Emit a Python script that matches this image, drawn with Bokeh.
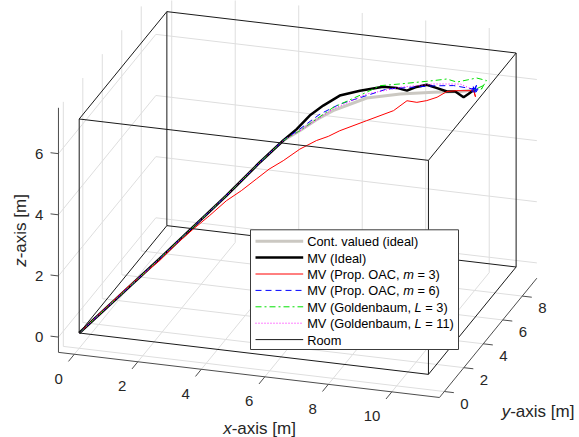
import math
from bokeh.plotting import figure
from bokeh.models import Range1d
from bokeh.embed import file_html
from bokeh.resources import INLINE
from bokeh.core.properties import value

# ---------------- data (metres) ----------------
XTICKS = [0, 2, 4, 6, 8, 10]
YTICKS = [0, 2, 4, 6, 8]
ZTICKS = [0, 2, 4, 6]
XLIM = [-0.5, 11.5]
YLIM = [-0.5, 9.5]
ZLIM = [-0.5, 7.5]
ROOM = [11, 9, 7]

cont_x = [0, 2.03, 3.72, 4.57, 5.16, 5.58, 6.00, 6.42, 7.27, 8.12, 8.96, 9.64, 9.98]
cont_y = [0, 1.62, 2.98, 3.66, 4.13, 4.46, 4.80, 5.14, 5.82, 6.50, 7.17, 7.71, 7.98]
cont_z = [0, 2.04, 3.79, 4.72, 5.32, 5.56, 5.84, 6.06, 6.31, 6.28, 6.18, 6.08, 6.06]

ideal_x = [0, 2.03, 2.87, 3.72, 4.57, 5.16, 5.50, 5.83, 6.17, 6.59, 7.10, 7.36, 7.69, 8.03,
           8.29, 8.50, 8.79, 9.05, 9.30, 9.51, 9.72, 9.85, 9.98]
ideal_y = [0, 1.62, 2.30, 2.98, 3.66, 4.13, 4.40, 4.66, 4.94, 5.27, 5.68, 5.89, 6.15, 6.42,
           6.63, 6.80, 7.03, 7.24, 7.44, 7.61, 7.78, 7.88, 7.98]
ideal_z = [0, 2.04, 2.91, 3.79, 4.72, 5.32, 5.63, 6.01, 6.27, 6.52, 6.58, 6.59, 6.60, 6.50,
           6.36, 6.43, 6.46, 6.30, 6.14, 6.10, 5.87, 5.96, 6.06]

oac3_x = [0, 1.27, 2.03, 2.45, 2.87, 3.30, 3.72, 4.10, 4.48, 4.80, 5.16, 5.58, 6.00, 6.30,
          6.59, 7.27, 7.95, 8.29, 8.54, 8.79, 9.05, 9.30, 9.55, 9.98, 10.02, 9.98]
oac3_y = [0, 1.02, 1.62, 1.96, 2.30, 2.64, 2.98, 3.28, 3.58, 3.84, 4.13, 4.46, 4.80, 5.04,
          5.27, 5.82, 6.36, 6.63, 6.83, 7.03, 7.24, 7.44, 7.64, 7.98, 8.02, 7.98]
oac3_z = [0, 1.31, 1.98, 2.44, 2.84, 3.22, 3.62, 3.88, 4.19, 4.45, 4.66, 4.96, 5.16, 5.24,
          5.37, 5.57, 5.77, 6.03, 5.93, 5.94, 6.00, 6.14, 6.12, 6.04, 5.83, 6.06]

oac6_x = [0, 2.03, 3.72, 4.57, 5.16, 5.58, 6.09, 6.59, 7.27, 7.78, 8.37, 8.96, 9.47, 9.98,
          9.90, 10.06, 9.93, 10.04, 9.95, 10.08, 9.97, 10.01, 9.92, 10.03, 10.07, 9.96,
          10.05, 9.99, 10.09, 10.02]
oac6_y = [0, 1.62, 2.98, 3.66, 4.13, 4.46, 4.87, 5.27, 5.82, 6.22, 6.70, 7.17, 7.58, 7.98,
          7.94, 8.05, 7.92, 8.06, 7.98, 8.04, 7.95, 8.03, 7.97, 8.00, 8.06, 7.97, 8.04,
          7.99, 8.07, 8.01]
oac6_z = [0, 2.04, 3.79, 4.72, 5.32, 5.62, 6.01, 6.24, 6.39, 6.51, 6.45, 6.39, 6.30, 6.09,
          6.16, 5.98, 6.04, 6.20, 5.94, 6.10, 6.18, 5.96, 6.08, 6.12, 5.99, 6.14, 6.22,
          5.95, 6.06, 6.10]

gb3_x = [0, 2.03, 3.72, 4.57, 5.16, 5.58, 6.42, 7.27, 7.61, 8.12, 8.96, 9.30, 9.55, 9.81,
         10.05, 10.30, 10.15, 10.22, 9.98]
gb3_y = [0, 1.62, 2.98, 3.66, 4.13, 4.46, 5.14, 5.82, 6.09, 6.50, 7.17, 7.44, 7.64, 7.85,
         8.04, 8.24, 8.12, 8.18, 7.98]
gb3_z = [0, 2.04, 3.79, 4.72, 5.32, 5.56, 6.16, 6.50, 6.65, 6.61, 6.56, 6.55, 6.40, 6.42,
         6.44, 6.31, 6.01, 6.16, 6.06]

gb11_x = [0, 2.03, 3.72, 4.57, 5.16, 5.58, 6.42, 7.27, 8.12, 8.96, 9.64, 9.98]
gb11_y = [0, 1.62, 2.98, 3.66, 4.13, 4.46, 5.14, 5.82, 6.50, 7.17, 7.71, 7.98]
gb11_z = [0, 2.04, 3.79, 4.72, 5.32, 5.56, 6.11, 6.44, 6.50, 6.45, 6.32, 6.06]

# ---------------- view (orthographic projection) ----------------
X0, Y0 = 78.7, 332.5
AX, AY = 31.75, 9.74
BX, BY, BZ = 3.76, -11.93, -30.57


def proj(xs, ys, zs):
    sx = [X0 + AX * x + AY * y for x, y in zip(xs, ys)]
    sy = [Y0 + BX * x + BY * y + BZ * z for x, y, z in zip(xs, ys, zs)]
    return sx, sy


def pt(x, y, z):
    sx, sy = proj([x], [y], [z])
    return sx[0], sy[0]


FONT = value("Liberation Sans")
TXT = "#262626"
NB = "\u00a0"

# Arial/Liberation advance widths (1/1000 em)
WID = {' ': 278, NB: 278, '(': 333, ')': 333, ',': 278, '.': 278, '=': 584, '-': 333, '[': 278,
       ']': 278, 'A': 667, 'C': 722, 'G': 778, 'I': 278, 'L': 556, 'M': 833, 'O': 778, 'P': 667,
       'R': 722, 'V': 667, 'a': 556, 'b': 556, 'c': 500, 'd': 556, 'e': 556, 'i': 222, 'l': 222,
       'm': 833, 'n': 556, 'o': 556, 'p': 556, 'r': 333, 's': 500, 't': 278, 'u': 556, 'v': 500,
       'x': 500, 'y': 500, 'z': 500}


def tw(s, size):
    return sum(WID.get(c, 556) for c in s) * size / 1000.0


p = figure(width=579, height=437, output_backend="svg", toolbar_location=None,
           x_range=Range1d(0, 579), y_range=Range1d(437, 0),
           x_axis_location=None, y_axis_location=None, min_border=0,
           outline_line_color=None, background_fill_color="white",
           border_fill_color="white")
p.xgrid.visible = False
p.ygrid.visible = False

x0, x1 = XLIM
y0, y1 = YLIM
z0, z1 = ZLIM

# grid on back planes
gxs, gys = [], []


def seg(a, b, lx, ly):
    sx, sy = proj([a[0], b[0]], [a[1], b[1]], [a[2], b[2]])
    lx.append(sx)
    ly.append(sy)


for xv in XTICKS:
    seg((xv, y0, z0), (xv, y1, z0), gxs, gys)
    seg((xv, y1, z0), (xv, y1, z1), gxs, gys)
for yv in YTICKS:
    seg((x0, yv, z0), (x1, yv, z0), gxs, gys)
    seg((x0, yv, z0), (x0, yv, z1), gxs, gys)
for zv in ZTICKS:
    seg((x0, y0, zv), (x0, y1, zv), gxs, gys)
    seg((x0, y1, zv), (x1, y1, zv), gxs, gys)
p.multi_line(gxs, gys, line_color="#dedede", line_width=1)

# axis lines and ticks
axs, ays = [], []
seg((x0, y0, z0), (x1, y0, z0), axs, ays)
seg((x1, y0, z0), (x1, y1, z0), axs, ays)
seg((x0, y0, z0), (x0, y0, z1), axs, ays)
for xv in XTICKS:
    seg((xv, y0, z0), (xv, y0 - 0.6, z0), axs, ays)
for yv in YTICKS:
    seg((x1, yv, z0), (x1 + 0.3, yv, z0), axs, ays)
for zv in ZTICKS:
    seg((x0, y0, zv), (x0 - 0.25, y0, zv), axs, ays)
p.multi_line(axs, ays, line_color="#4d4d4d", line_width=1)

# tick labels
TS = value("15px")
tx, ty, tt = [], [], []
for xv in XTICKS:
    sx, sy = pt(xv, y0, z0)
    tx.append(sx - 11.5)
    ty.append(sy + 24.5)
    tt.append(str(xv))
p.text(x=tx, y=ty, text=tt, text_font=FONT, text_font_size=TS,
       text_align="right", text_baseline="middle", text_color=TXT)
tx, ty, tt = [], [], []
for yv in YTICKS:
    sx, sy = pt(x1, yv, z0)
    tx.append(sx + 16.0)
    ty.append(sy + 12.3)
    tt.append(str(yv))
p.text(x=tx, y=ty, text=tt, text_font=FONT, text_font_size=TS,
       text_align="left", text_baseline="middle", text_color=TXT)
tx, ty, tt = [], [], []
for zv in ZTICKS:
    sx, sy = pt(x0, y0, zv)
    tx.append(sx - 15.0)
    ty.append(sy)
    tt.append(str(zv))
p.text(x=tx, y=ty, text=tt, text_font=FONT, text_font_size=TS,
       text_align="right", text_baseline="middle", text_color=TXT)

# axis titles (italic variable + regular rest)
LS = 17
REST = "-axis" + NB + "[m]"
for var, cx, cy in [("x", 259, 428), ("y", 537.5, 411)]:
    full = tw(var + REST, LS)
    start = cx - full / 2
    p.text(x=[start], y=[cy], text=[var], text_font=FONT, text_font_size=value("%dpx" % LS),
           text_font_style="italic", text_align="left", text_baseline="middle", text_color=TXT)
    p.text(x=[start + tw(var, LS)], y=[cy], text=[REST], text_font=FONT,
           text_font_size=value("%dpx" % LS), text_align="left", text_baseline="middle",
           text_color=TXT)
full = tw("z" + REST, LS)
zs = 230 + full / 2
p.text(x=[20], y=[zs], text=["z"], text_font=FONT, text_font_size=value("%dpx" % LS),
       text_font_style="italic", text_align="left", text_baseline="middle", text_color=TXT,
       angle=math.pi / 2)
p.text(x=[20], y=[zs - tw("z", LS)], text=[REST], text_font=FONT,
       text_font_size=value("%dpx" % LS), text_align="left", text_baseline="middle",
       text_color=TXT, angle=math.pi / 2)

# trajectories
STY = [
    (cont_x, cont_y, cont_z, dict(line_color="#cbc8c2", line_width=3)),
    (ideal_x, ideal_y, ideal_z, dict(line_color="#000000", line_width=2.5)),
    (oac3_x, oac3_y, oac3_z, dict(line_color="#ff0000", line_width=1)),
    (oac6_x, oac6_y, oac6_z, dict(line_color="#0000ff", line_width=1, line_dash="6 4")),
    (gb3_x, gb3_y, gb3_z, dict(line_color="#00e000", line_width=1, line_dash="6 3 2 3")),
    (gb11_x, gb11_y, gb11_z, dict(line_color="#ff00ff", line_width=1, line_dash="1 2")),
]
for xs, ys, zs_, st in STY:
    sx, sy = proj(xs, ys, zs_)
    p.line(sx, sy, **st)

# room box
L, Wd, H = ROOM
corners = [(0, 0, 0), (L, 0, 0), (L, Wd, 0), (0, Wd, 0),
           (0, 0, H), (L, 0, H), (L, Wd, H), (0, Wd, H)]
edges = [(0, 1), (1, 2), (2, 3), (3, 0), (4, 5), (5, 6), (6, 7), (7, 4),
         (0, 4), (1, 5), (2, 6), (3, 7)]
rxs, rys = [], []
for a, b in edges:
    seg(corners[a], corners[b], rxs, rys)
room_style = dict(line_color="#1a1a1a", line_width=1)
p.multi_line(rxs, rys, **room_style)

# legend
LEFT, RIGHT, TOP, BOTTOM = 250, 458, 229.3, 349
p.quad(left=[LEFT], right=[RIGHT], top=[TOP], bottom=[BOTTOM], fill_color="white",
       line_color="#3c3c3c", line_width=1)
FS = 12.8
entries = [
    ([("Cont. valued (ideal)", False)], STY[0][3]),
    ([("MV (Ideal)", False)], STY[1][3]),
    ([("MV (Prop. OAC," + NB, False), ("m", True), (NB + "=" + NB + "3)", False)], STY[2][3]),
    ([("MV (Prop. OAC," + NB, False), ("m", True), (NB + "=" + NB + "6)", False)], STY[3][3]),
    ([("MV (Goldenbaum," + NB, False), ("L", True), (NB + "=" + NB + "3)", False)], STY[4][3]),
    ([("MV (Goldenbaum," + NB, False), ("L", True), (NB + "=" + NB + "11)", False)], STY[5][3]),
    ([("Room", False)], room_style),
]
for i, (parts, st) in enumerate(entries):
    yy = 240.7 + i * 16.4
    p.line([255, 302.7], [yy, yy], **st)
    xx = 306.7
    for s, it in parts:
        p.text(x=[xx], y=[yy + 0.5], text=[s], text_font=FONT, text_font_size=value("%.1fpx" % FS),
               text_font_style="italic" if it else "normal", text_align="left",
               text_baseline="middle", text_color="#000000")
        xx += tw(s, FS)

open("out.html", "w").write(file_html(p, INLINE))
